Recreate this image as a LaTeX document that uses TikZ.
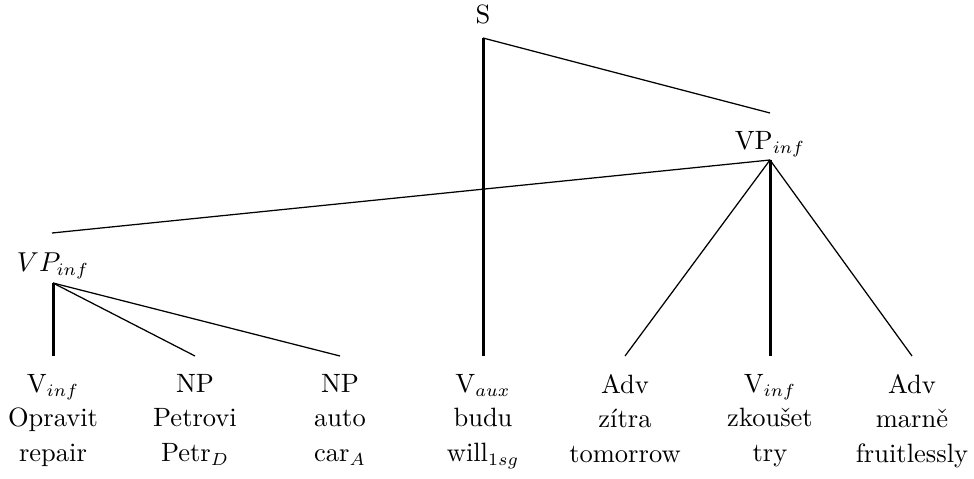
\documentclass[tikz,border=0pt]{standalone}
\usepackage{fontspec}
\usetikzlibrary{calc}

\begin{document}
\begin{tikzpicture}
  [
    x=0.4pt, y=-0.4pt,
    every node/.style =
      {font=\fontsize{10.6}{12.7}\selectfont},
    cat/.style =
      {anchor=south, inner xsep=0pt, outer sep=0pt},
    leaf/.style =
      {align=center, anchor=north, inner xsep=0pt, inner ysep=7.3pt, outer sep=0pt},
    branch/.style =
      {line width=0.5pt},
    head/.style =
      {line width=1.2pt}
  ]
\useasboundingbox (0,0) rectangle (974,479);

\node[cat, inner ysep=5.6pt] (s) at (483,38) {S};
\node[cat, inner ysep=1.2pt] (vp) at (770,160) {VP$_{inf}$};
\node[cat, inner ysep=1.5pt] (vpl) at (53,283) {$VP_{inf}$};

\coordinate (vp-top) at (770,113);
\coordinate (vpl-top) at (52,233);

\node[leaf] (inf1) at (53,356) {V$_{inf}$\\[1.1pt]Opravit\\[1.1pt]repair};
\node[leaf] (np1) at (195,356) {NP\\[1.1pt]Petrovi\\[1.1pt]Petr$_D$};
\node[leaf] (np2) at (340,356) {NP\\[1.1pt]auto\\[1.1pt]car$_A$};
\node[leaf] (aux) at (483,356) {V$_{aux}$\\[1.1pt]budu\\[1.1pt]will$_{1sg}$};
\node[leaf] (adv1) at (625,356) {Adv\\[1.1pt]zítra\\[1.1pt]tomorrow};
\node[leaf] (inf2) at (770,356) {V$_{inf}$\\[1.1pt]zkoušet\\[1.1pt]try};
\node[leaf] (adv2) at (912,356) {Adv\\[1.1pt]marně\\[1.1pt]fruitlessly};

\draw [branch] (s.south) -- (vp-top);
\draw [head] (s.south) -- (aux.north);

\draw [branch] (vp.south) -- (vpl-top);
\draw [branch] (vp.south) -- (adv1.north);
\draw [head] (vp.south) -- (inf2.north);
\draw [branch] (vp.south) -- (adv2.north);

\draw [head] (vpl.south) -- (inf1.north);
\draw [branch] (vpl.south) -- (np1.north);
\draw [branch] (vpl.south) -- (np2.north);

\end{tikzpicture}
\end{document}
